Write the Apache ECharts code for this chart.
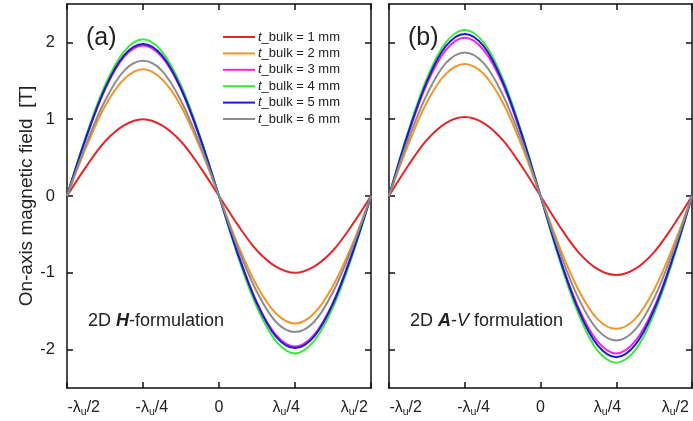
<!DOCTYPE html>
<html><head><meta charset="utf-8">
<script src="https://cdn.jsdelivr.net/npm/echarts@6/dist/echarts.min.js"></script>
<style>html,body{margin:0;padding:0;background:#fff}#c{width:693px;height:421px}</style>
</head><body><div id="c"></div>
<script>
// x positions in units of the undulator period lambda_u
const xPos = [-0.5,-0.4375,-0.375,-0.3125,-0.25,-0.1875,-0.125,-0.0625,0,0.0625,0.125,0.1875,0.25,0.3125,0.375,0.4375,0.5];
const xTickLabels = ['-λ{s|u}/2','-λ{s|u}/4','0{s|\u200b}','λ{s|u}/4','λ{s|u}/2'];
const seriesNames = ['1 mm','2 mm','3 mm','4 mm','5 mm','6 mm'];
const colors = ['#e3262b','#f0962f','#ea2ae6','#3de83a','#1c1ccf','#8c8c8c'];

// Panel (a): 2D H-formulation
const aRed     = [0,0.38,0.71,0.92,1.00,0.92,0.71,0.38,0,-0.38,-0.71,-0.92,-1.00,-0.92,-0.71,-0.38,0];
const aOrange  = [0,0.63,1.17,1.52,1.65,1.52,1.17,0.63,0,-0.64,-1.17,-1.53,-1.66,-1.53,-1.17,-0.64,0];
const aMagenta = [0,0.75,1.39,1.81,1.96,1.81,1.39,0.75,0,-0.75,-1.39,-1.81,-1.96,-1.81,-1.39,-0.75,0];
const aGreen   = [0,0.78,1.44,1.88,2.04,1.88,1.44,0.78,0,-0.79,-1.45,-1.89,-2.05,-1.89,-1.45,-0.79,0];
const aBlue    = [0,0.76,1.40,1.83,1.98,1.83,1.40,0.76,0,-0.76,-1.40,-1.83,-1.98,-1.83,-1.40,-0.76,0];
const aGray    = [0,0.67,1.24,1.63,1.76,1.63,1.24,0.67,0,-0.68,-1.25,-1.64,-1.77,-1.64,-1.25,-0.68,0];

// Panel (b): 2D A-V formulation
const bRed     = [0,0.39,0.73,0.95,1.03,0.95,0.73,0.39,0,-0.39,-0.73,-0.95,-1.03,-0.95,-0.73,-0.39,0];
const bOrange  = [0,0.66,1.22,1.59,1.72,1.59,1.22,0.66,0,-0.66,-1.22,-1.60,-1.73,-1.60,-1.22,-0.66,0];
const bMagenta = [0,0.79,1.46,1.90,2.06,1.90,1.46,0.79,0,-0.79,-1.45,-1.89,-2.05,-1.89,-1.45,-0.79,0];
const bGreen   = [0,0.83,1.53,2.00,2.16,2.00,1.53,0.83,0,-0.83,-1.53,-2.01,-2.17,-2.01,-1.53,-0.83,0];
const bBlue    = [0,0.81,1.49,1.95,2.11,1.95,1.49,0.81,0,-0.80,-1.48,-1.94,-2.10,-1.94,-1.48,-0.80,0];
const bGray    = [0,0.72,1.32,1.73,1.87,1.73,1.32,0.72,0,-0.72,-1.33,-1.74,-1.88,-1.74,-1.33,-0.72,0];

const yTicks = [-2,-1,0,1,2];
const panelA = [aRed,aOrange,aMagenta,aGreen,aBlue,aGray];
const panelB = [bRed,bOrange,bMagenta,bGreen,bBlue,bGray];

// layout: in the original figure the x tick labels sit slightly inward of their ticks
const xLabelAt = [-0.445,-0.221,0,0.221,0.445];

const FONT = 'Liberation Sans, Arial, sans-serif';
const chart = echarts.init(document.getElementById('c'));

function xAxisDef(gi, top) {
  return {
    type:'value', gridIndex: gi, min:-0.5, max:0.5, interval:0.25,
    position: top ? 'top' : 'bottom',
    axisLine:{show:true, onZero:false, lineStyle:{color:'#111', width:1.5}},
    axisTick:{show:true, inside:true, length:6, lineStyle:{color:'#111', width:1.5}},
    splitLine:{show:false},
    axisLabel: top ? {show:false} : {
      show:true, margin:10, color:'#222', fontFamily:FONT, fontSize:16,
      customValues: xLabelAt,
      formatter: function(v, idx){
        let best = 0;
        xLabelAt.forEach((p,k)=>{ if (Math.abs(p-v) < Math.abs(xLabelAt[best]-v)) best = k; });
        return xTickLabels[best];
      },
      rich:{ s:{fontSize:10.5, fontFamily:FONT, color:'#222', padding:[9,0,0,0]} }
    }
  };
}
function yAxisDef(gi, right, labels) {
  return {
    type:'value', gridIndex: gi, min:-2.5, max:2.5,
    position: right ? 'right' : 'left',
    axisLine:{show:true, onZero:false, lineStyle:{color:'#111', width:1.5}},
    axisTick:{show:true, inside:true, length:6, customValues:yTicks, lineStyle:{color:'#111', width:1.5}},
    splitLine:{show:false},
    axisLabel: labels ? {show:true, margin:12, color:'#222', fontFamily:FONT, fontSize:16.5, customValues:yTicks} : {show:false},
    name: labels ? 'On-axis magnetic field  [T]' : '',
    nameLocation:'middle', nameGap:28, nameRotate:90,
    nameTextStyle:{fontFamily:FONT, fontSize:19, color:'#222'}
  };
}

const series = [];
[panelA, panelB].forEach((panel, p) => {
  panel.forEach((vals, i) => {
    series.push({
      name: seriesNames[i], type:'line', xAxisIndex: p*2, yAxisIndex: p*2,
      data: xPos.map((x,k)=>[x, vals[k]]),
      smooth: 0.35, showSymbol:false, symbol:'none',
      lineStyle:{color:colors[i], width:2}, itemStyle:{color:colors[i]},
      silent:true, animation:false, z: 2
    });
  });
});

chart.setOption({
  animation:false,
  backgroundColor:'#fff',
  grid:[
    {left:67, top:4, width:304, height:384, show:false, outerBoundsMode:'none', containLabel:false},
    {left:389, top:4, width:303, height:384, show:false, outerBoundsMode:'none', containLabel:false}
  ],
  xAxis:[xAxisDef(0,false), xAxisDef(0,true), xAxisDef(1,false), xAxisDef(1,true)],
  yAxis:[yAxisDef(0,false,true), yAxisDef(0,true,false), yAxisDef(1,false,false), yAxisDef(1,true,false)],
  legend:{
    data: seriesNames, orient:'vertical', left:223, top:30, padding:0,
    icon:'rect', itemWidth:32, itemHeight:2, itemGap:2.4,
    textStyle:{fontFamily:FONT, fontSize:13, color:'#222', lineHeight:14, padding:[0,0,0,-2],
      rich:{i:{fontStyle:'italic', fontFamily:FONT, fontSize:13, color:'#222'}, n:{fontFamily:FONT, fontSize:13, color:'#222'}}},
    formatter: function(name){ return '{i|t}{n|_bulk = ' + name + '}'; },
    selectedMode:false
  },
  graphic:[
    {type:'text', left:86, top:26, style:{text:'(a)', font:'25px '+FONT, fill:'#222'}},
    {type:'text', left:408, top:26, style:{text:'(b)', font:'25px '+FONT, fill:'#222'}},
    {type:'text', left:88, top:312, style:{
      text:'{n|2D }{b|H}{n|-formulation}',
      rich:{n:{font:'18px '+FONT, fill:'#222'}, b:{font:'italic bold 18px '+FONT, fill:'#222'}}}},
    {type:'text', left:410, top:312, style:{
      text:'{n|2D }{b|A}{n|-}{i|V}{n| formulation}',
      rich:{n:{font:'18px '+FONT, fill:'#222'}, b:{font:'italic bold 18px '+FONT, fill:'#222'}, i:{font:'italic 18px '+FONT, fill:'#222'}}}}
  ],
  series: series
});
</script></body></html>
